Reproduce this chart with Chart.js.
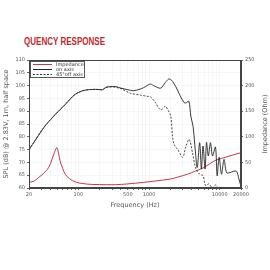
<!DOCTYPE html>
<html>
<head>
<meta charset="utf-8">
<script src="https://cdn.jsdelivr.net/npm/chart.js@4.4.1/dist/chart.umd.min.js"></script>
<style>
  html, body { margin: 0; padding: 0; background: #fff; }
  #wrap { position: relative; width: 270px; height: 270px; }
  #title {
    position: absolute; left: 24px; top: 35px;
    font-family: "Liberation Sans Narrow", "Liberation Sans", Arial, sans-serif;
    font-weight: bold; font-size: 11px; color: #c3282c;
    white-space: nowrap;
    transform: scaleX(0.73); transform-origin: left top;
  }
  canvas { position: absolute; left: 0; top: 0; }
</style>
</head>
<body>
<div id="wrap">
  <div id="title">QUENCY RESPONSE</div>
  <canvas id="c" width="270" height="270"></canvas>
</div>
<script>
// on axis SPL (dB)
const onAxisFreq = [20, 25, 30, 35, 40, 47, 55, 65, 75, 90, 110, 130, 157, 190, 220, 245, 290, 340, 400, 500, 600, 720, 840, 950, 1050, 1200, 1460, 1700, 1900, 2030, 2160, 2400, 2650, 2820, 3100, 3300, 3650, 3900, 4200, 4500, 4800, 5200, 5500, 5800, 6200, 6500, 6900, 7400, 7900, 8700, 9200, 9800, 10600, 11500, 12500, 14000, 15500, 17300, 18500, 20000];
const onAxisSpl  = [75, 79, 82.3, 84.8, 86.6, 88.7, 90.6, 92.6, 94.5, 96.6, 97.8, 98.3, 98.5, 98.5, 98.4, 99.3, 99.6, 99.6, 99.0, 98.4, 98.0, 98.5, 99.2, 100.1, 100.6, 99.8, 99.0, 101.2, 102.6, 102.3, 101.6, 99.5, 97, 95.5, 93.5, 93.2, 93.9, 88, 84, 75, 68, 77.7, 67.4, 76.4, 67.4, 77.8, 72.5, 77.7, 72.5, 76, 64.8, 72, 65.4, 71.2, 66, 66, 66.5, 66.5, 64, 60.5];

// 45 deg off axis SPL (dB)
const offAxisFreq = [20, 25, 30, 35, 40, 47, 55, 65, 75, 90, 110, 130, 157, 190, 220, 245, 300, 400, 550, 760, 940, 1050, 1200, 1460, 1700, 1850, 2030, 2150, 2260, 2550, 3000, 3300, 3700, 4100, 4600, 5200, 5800, 6300, 7000, 7900, 8700, 9700, 10000];
const offAxisSpl  = [75, 79, 82.3, 84.8, 86.6, 88.7, 90.6, 92.6, 94.5, 96.6, 97.8, 98.3, 98.5, 98.5, 98.4, 99.3, 99.5, 98.8, 97, 96.3, 95.8, 95.6, 93.8, 90.5, 91.9, 90.5, 88, 80, 77, 75, 72, 76, 79, 74, 67.4, 65.4, 64.8, 61, 61.6, 60, 61.2, 60, 60];

// impedance (Ohm), right axis
const impFreq = [20, 24, 27, 32, 38, 42, 46, 49.5, 52, 55, 60, 65, 75, 90, 110, 155, 250, 334, 500, 840, 1200, 2000, 2500, 3500, 4600, 6000, 8400, 12000, 20000];
const impOhm  = [11, 14, 20, 28, 40, 55, 70, 79, 70, 53, 38, 27, 18, 12, 9, 7, 6.5, 6.5, 8, 11, 13.5, 17.5, 21, 27, 33.5, 40, 53, 60, 69];

const freqTicks = [20, 30, 40, 50, 60, 70, 80, 90, 100, 200, 300, 400, 500, 600, 700, 800, 900, 1000, 2000, 3000, 4000, 5000, 6000, 7000, 8000, 9000, 10000, 20000];
const freqLabels = [20, 100, 500, 1000, 10000, 20000];
const splTicks = [60, 65, 70, 75, 80, 85, 90, 95, 100, 105, 110];
const impTicks = [0, 50, 100, 150, 200, 250];

const pts = (xs, ys) => xs.map((x, i) => ({ x: x, y: ys[i] }));
const tickFont = { family: "DejaVu Sans", size: 5 };
const axisColor = "#555";
const gridColor = "rgba(0,0,0,0.03)";

// legend box + frame + right title
const decorPlugin = {
  id: "decor",
  afterDraw(chart) {
    const ctx = chart.ctx;
    const a = chart.chartArea;
    ctx.save();
    ctx.strokeStyle = "#444";
    ctx.lineWidth = 1;
    ctx.strokeRect(a.left + 0.5, a.top + 0.5, a.right - a.left - 1, a.bottom - a.top - 1);

    // legend
    const lx = a.left + 1, ly = a.top + 1, lw = 55, lh = 17;
    ctx.fillStyle = "#fff";
    ctx.fillRect(lx, ly, lw, lh);
    ctx.strokeStyle = "#555";
    ctx.strokeRect(lx + 0.5, ly + 0.5, lw - 1, lh - 1);
    ctx.font = "5px 'DejaVu Sans'";
    ctx.textBaseline = "middle";
    chart.data.datasets.forEach((ds, i) => {
      const y = ly + 3.5 + i * 5;
      ctx.beginPath();
      ctx.strokeStyle = ds.borderColor;
      ctx.lineWidth = 1;
      ctx.setLineDash(ds.borderDash || []);
      ctx.moveTo(lx + 3, y);
      ctx.lineTo(lx + 22, y);
      ctx.stroke();
      ctx.setLineDash([]);
      ctx.fillStyle = "#333";
      ctx.fillText(ds.label, lx + 26, y);
    });

    // right axis title, bottom to top
    ctx.translate(265, (a.top + a.bottom) / 2);
    ctx.rotate(-Math.PI / 2);
    ctx.textAlign = "center";
    ctx.fillStyle = axisColor;
    ctx.font = "6.5px 'DejaVu Sans'";
    ctx.fillText("Impedance (Ohm)", 0, 0);
    ctx.restore();
  }
};

new Chart(document.getElementById("c"), {
  type: "line",
  data: {
    datasets: [
      {
        label: "Impedance",
        data: pts(impFreq, impOhm),
        yAxisID: "y1",
        borderColor: "#c0394b",
        borderWidth: 1,
        pointRadius: 0,
        tension: 0.35,
        order: 3
      },
      {
        label: "on axis",
        data: pts(onAxisFreq, onAxisSpl),
        yAxisID: "y",
        borderColor: "#222",
        borderWidth: 0.9,
        pointRadius: 0,
        tension: 0.3,
        order: 1
      },
      {
        label: "45\u00b0off axis",
        data: pts(offAxisFreq, offAxisSpl),
        yAxisID: "y",
        borderColor: "#333",
        borderWidth: 0.9,
        borderDash: [2, 1.5],
        pointRadius: 0,
        tension: 0.3,
        order: 2
      }
    ]
  },
  options: {
    responsive: false,
    animation: false,
    layout: { padding: { top: 60, left: 0, right: 0, bottom: 61 } },
    plugins: { legend: { display: false }, tooltip: { enabled: false } },
    scales: {
      x: {
        type: "logarithmic",
        min: 20,
        max: 20000,
        afterBuildTicks: s => { s.ticks = freqTicks.map(v => ({ value: v })); },
        afterFit: s => { s.height = 21; },
        ticks: {
          autoSkip: false,
          maxRotation: 0,
          padding: 2,
          color: axisColor,
          font: tickFont,
          callback: v => freqLabels.includes(v) ? String(v) : ""
        },
        grid: { color: gridColor, tickLength: 2, tickColor: "#666" },
        border: { color: "#444" },
        title: { display: true, text: "Frequency (Hz)", color: axisColor, font: { family: "DejaVu Sans", size: 6.5 }, padding: { top: 2, bottom: 0 } }
      },
      y: {
        position: "left",
        min: 60,
        max: 110,
        afterBuildTicks: s => { s.ticks = splTicks.map(v => ({ value: v })); },
        afterFit: s => { s.width = 29; },
        ticks: { color: axisColor, font: tickFont, padding: 2 },
        grid: { color: gridColor, tickLength: 2, tickColor: "#666" },
        border: { color: "#444" },
        title: { display: true, text: "SPL (dB) @ 2.83V, 1m, half space", color: axisColor, font: { family: "DejaVu Sans", size: 6.5 }, padding: 2 }
      },
      y1: {
        position: "right",
        min: 0,
        max: 250,
        afterBuildTicks: s => { s.ticks = impTicks.map(v => ({ value: v })); },
        afterFit: s => { s.width = 29; },
        ticks: { color: axisColor, font: tickFont, padding: 2 },
        grid: { drawOnChartArea: false, tickLength: 2, tickColor: "#666" },
        border: { color: "#444" }
      }
    }
  },
  plugins: [decorPlugin]
});
</script>
</body>
</html>
